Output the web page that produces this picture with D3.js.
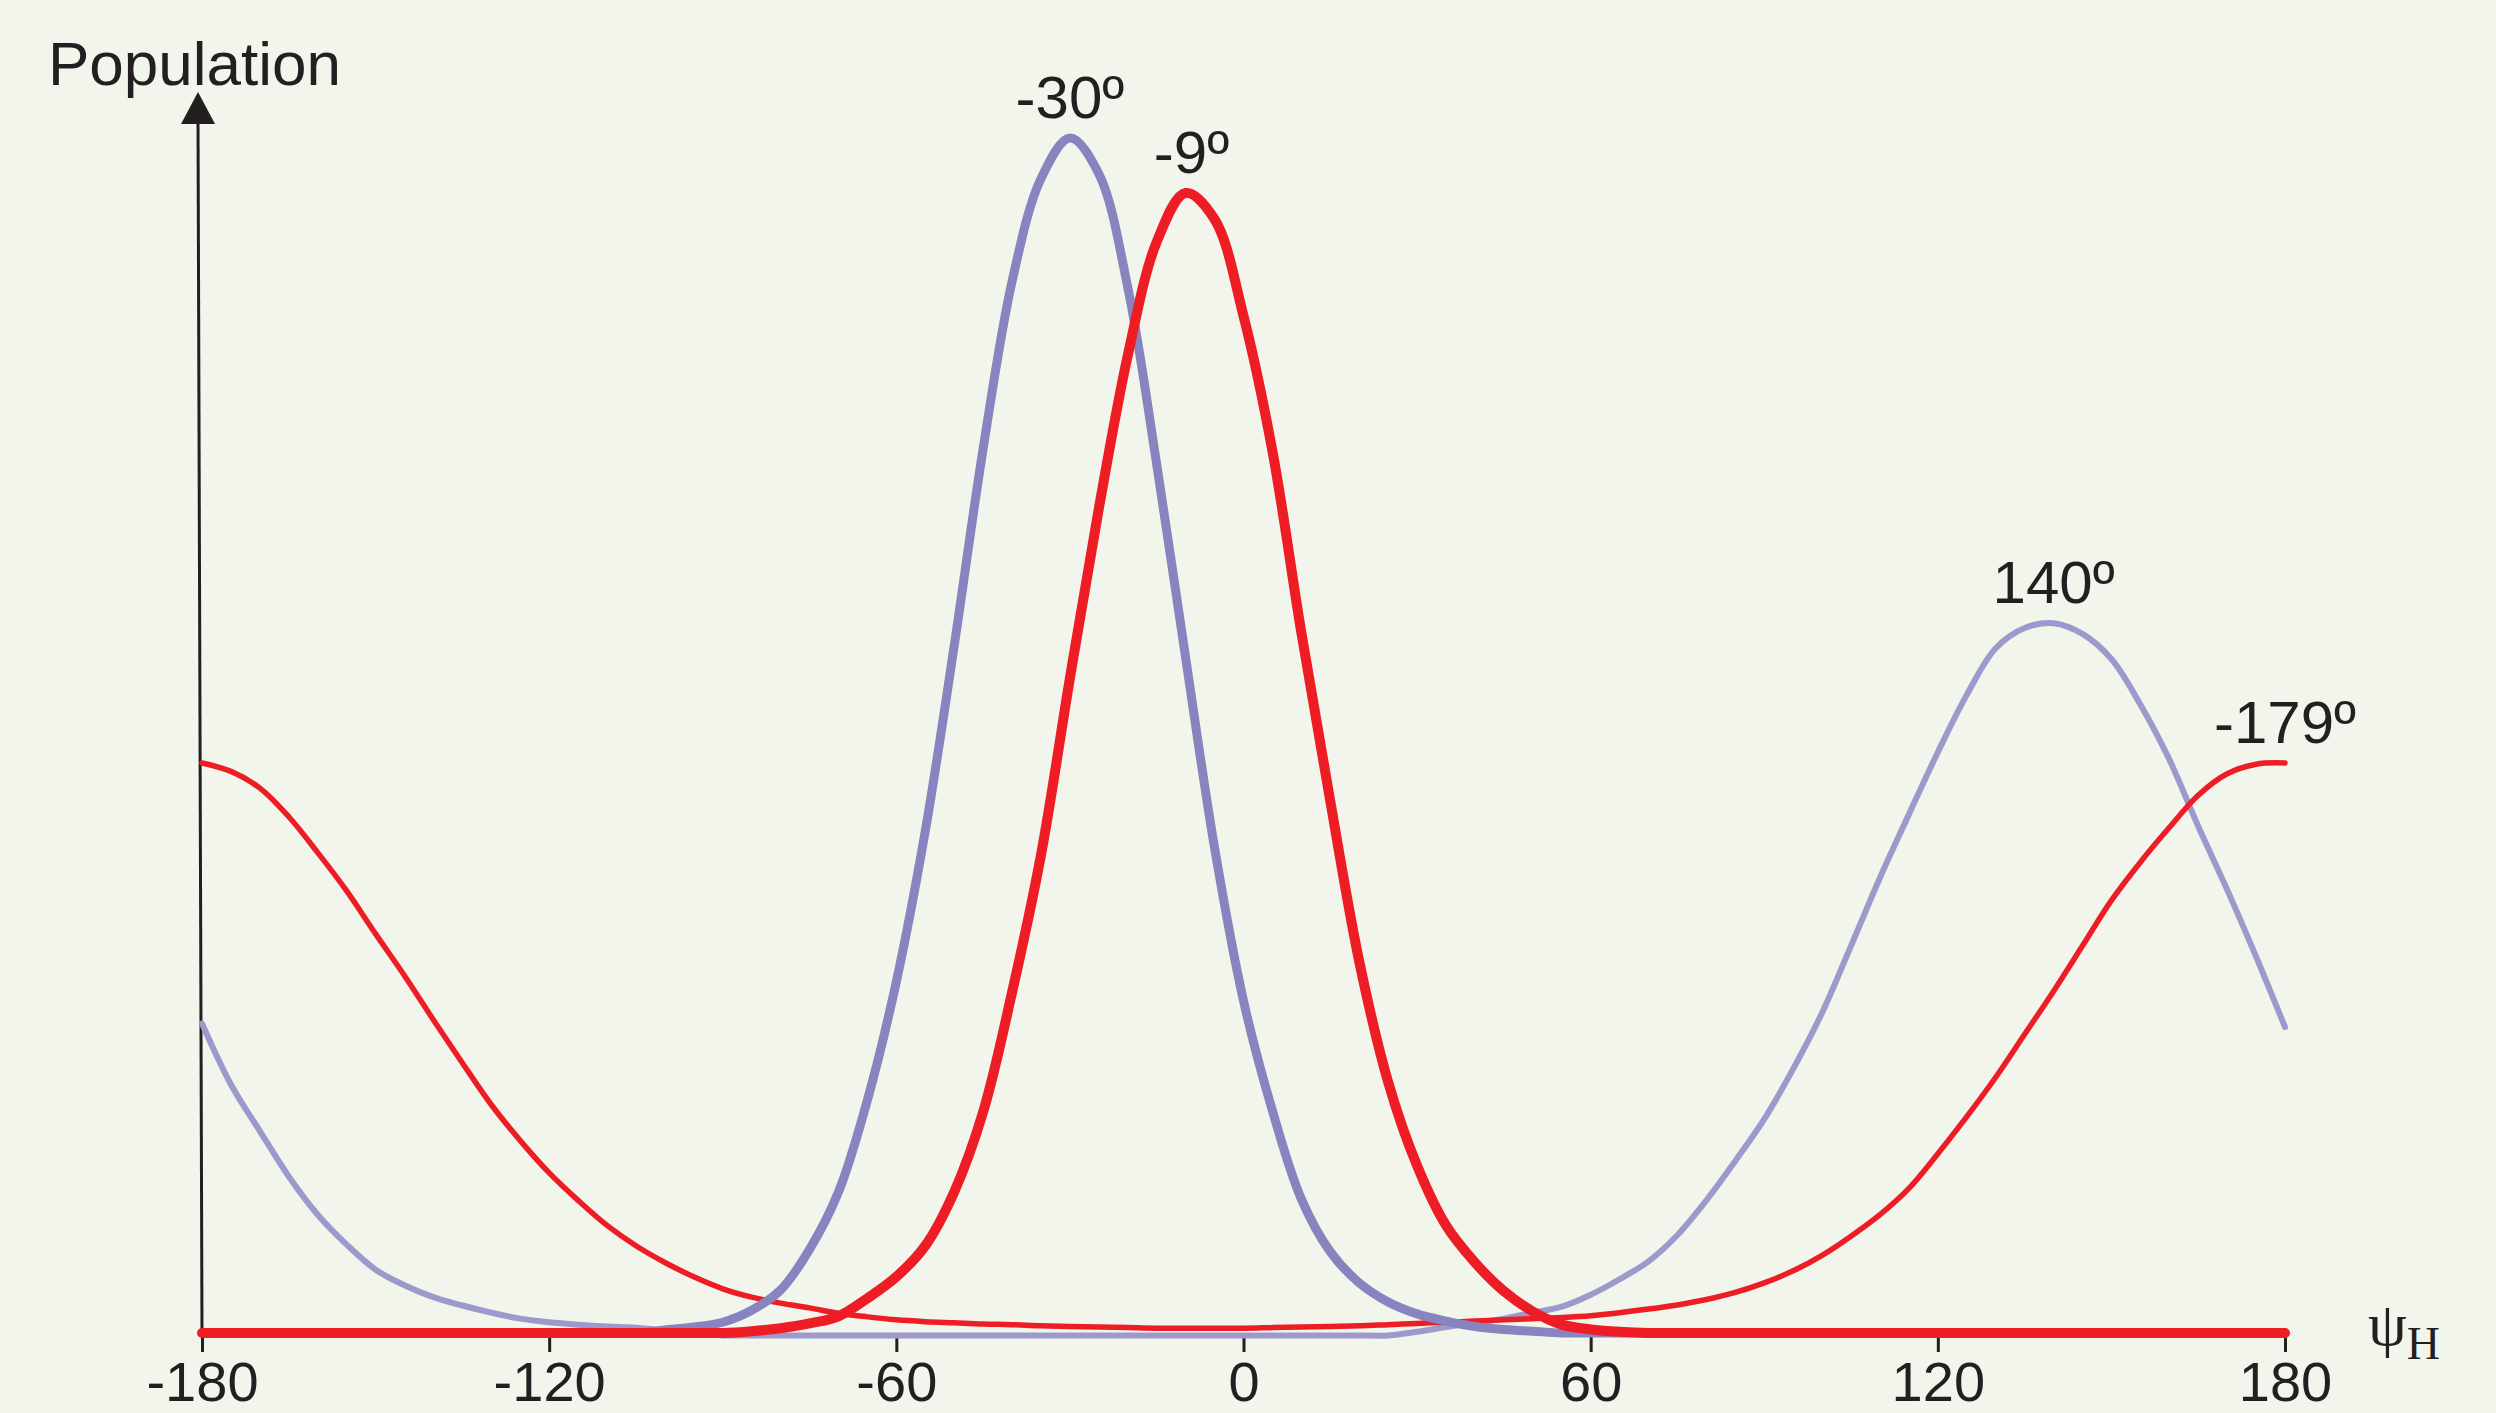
<!DOCTYPE html>
<html>
<head>
<meta charset="utf-8">
<script src="https://cdn.jsdelivr.net/npm/d3@7"></script>
<style>
  body{margin:0;background:#f2f5eb;}
  svg{display:block;}
</style>
</head>
<body>
<script>
// angle grid (deg) shared by all curves
const angles=[-180,-175,-170,-165,-160,-155,-150,-145,-140,-135,-130,-125,-120,-115,-110,-105,-100,-95,-90,-85,-80,-75,-70,-65,-60,-55,-50,-45,-40,-35,-30,-25,-20,-15,-10,-5,0,5,10,15,20,25,30,35,40,45,50,55,60,65,70,75,80,85,90,95,100,105,110,115,120,125,130,135,140,145,150,155,160,165,170,175,180]

// thick blue, peak -30
const popA=[0,0,0,0,0,0,0,0,0,0,0,0,0,0,0,0,0.25,0.5,0.9,1.9,3.6,7.0,11.8,19.5,29.4,42.0,57.5,74.0,88.0,96.6,100,97.0,87.5,72.7,56.5,40.6,27.8,18.6,11.2,6.8,4.2,2.6,1.6,1.0,0.55,0.3,0.15,0,0,0,0,0,0,0,0,0,0,0,0,0,0,0,0,0,0,0,0,0,0,0,0,0,0]
// thick red, peak -9
const popB=[0,0,0,0,0,0,0,0,0,0,0,0,0,0,0,0,0,0,0,0.15,0.4,0.8,1.4,2.9,4.7,7.3,11.8,18.5,28.5,40.0,54.8,69.0,81.8,91.3,95.4,93.2,85.1,73.8,58.6,44.5,31.1,21.0,14.0,9.0,5.9,3.5,1.8,0.7,0.3,0.1,0,0,0,0,0,0,0,0,0,0,0,0,0,0,0,0,0,0,0,0,0,0,0]
// thin blue, peak 140
const popC=[25.9,20.8,16.9,13.1,9.9,7.4,5.3,4.0,3.0,2.3,1.7,1.2,0.9,0.7,0.55,0.45,0.2,0,-0.2,-0.2,-0.2,-0.2,-0.2,-0.2,-0.2,-0.2,-0.2,-0.2,-0.2,-0.2,-0.2,-0.2,-0.2,-0.2,-0.2,-0.2,-0.2,-0.2,-0.2,-0.2,-0.2,-0.2,0.1,0.5,0.85,1.2,1.7,2.2,3.2,4.5,6.0,8.2,11.1,14.4,17.9,22.1,26.8,32.4,38.1,43.4,48.6,53.4,57.3,59.0,59.4,58.5,56.4,52.6,48.0,42.4,37.1,31.5,25.6]
// thin red, peak -179
const popD=[47.7,47.0,45.6,43.2,40.2,37.0,33.4,29.9,26.2,22.6,19.1,16.1,13.4,11.1,9.0,7.3,5.9,4.7,3.7,3.0,2.5,2.1,1.65,1.35,1.1,0.95,0.85,0.75,0.7,0.6,0.55,0.5,0.45,0.4,0.4,0.4,0.4,0.45,0.5,0.55,0.6,0.7,0.8,0.9,1.0,1.1,1.2,1.3,1.45,1.7,2.0,2.35,2.8,3.4,4.2,5.2,6.5,8.1,9.9,12.1,15.0,18.1,21.4,25.0,28.6,32.4,36.2,39.4,42.3,45.0,46.8,47.6,47.7]

const xTicks=[-180,-120,-60,0,60,120,180]
const peakLabels=["-30º","-9º","140º","-179º"]
const peakAngles=[-30,-9,140,180]

const w=2496, h=1413
const svg=d3.select("body").append("svg").attr("width",w).attr("height",h)
svg.append("rect").attr("width",w).attr("height",h).attr("fill","#f2f5eb")

const x=d3.scaleLinear().domain([-180,180]).range([202,2285])
const y=d3.scaleLinear().domain([0,100]).range([1333,138])

// x axis ticks + labels (no domain line)
const xAxis=d3.axisBottom(x).tickValues(xTicks).tickSize(17).tickPadding(9).tickFormat(d=>d)
const gx=svg.append("g").attr("transform","translate(0,1335)").call(xAxis)
gx.select(".domain").remove()
gx.selectAll(".tick line").attr("stroke","#231f20").attr("stroke-width",3)
gx.selectAll(".tick text").attr("fill","#231f20")
  .style("font-family","'Liberation Sans', Arial, sans-serif").style("font-size","56px")

// y axis arrow
svg.append("line").attr("x1",x(-180)).attr("y1",y(0)).attr("x2",x(-180)-4).attr("y2",118)
  .attr("stroke","#231f20").attr("stroke-width",3)
svg.append("path").attr("d",d3.line()([[x(-180)-21,124],[x(-180)-4,92],[x(-180)+13,124]]))
  .attr("fill","#231f20")

svg.append("text").attr("x",48).attr("y",85).text("Population")
  .style("font-family","'Liberation Sans', Arial, sans-serif").style("font-size","62px").attr("fill","#231f20")

const psi=svg.append("text").attr("x",2368).attr("y",1345)
  .style("font-family","'Liberation Serif', 'Times New Roman', serif").attr("fill","#231f20")
psi.append("tspan").text("ψ").style("font-size","62px")
psi.append("tspan").text("H").attr("dy",14).style("font-size","46px")

// curves
const line=d3.line().x((d,i)=>x(angles[i])).y(d=>y(d)).curve(d3.curveCatmullRom.alpha(0.5))
const series=[
  {v:popC,c:"#9d99cc",sw:6},
  {v:popD,c:"#ee1c25",sw:5.5},
  {v:popA,c:"#8884c0",sw:9},
  {v:popB,c:"#ee1c25",sw:10}
]
svg.selectAll("path.curve").data(series).enter().append("path")
  .attr("class","curve")
  .attr("d",d=>line(d.v))
  .attr("fill","none")
  .attr("stroke",d=>d.c)
  .attr("stroke-width",d=>d.sw)
  .attr("stroke-linecap","round")
  .attr("stroke-linejoin","round")

// peak labels
const peakSeries=[popA,popB,popC,popD]
svg.selectAll("text.peak").data(peakLabels).enter().append("text")
  .attr("class","peak")
  .attr("x",(d,i)=>x(peakAngles[i]))
  .attr("y",(d,i)=>y(d3.max(peakSeries[i]))-20)
  .attr("text-anchor","middle")
  .attr("fill","#231f20")
  .style("font-family","'Liberation Sans', Arial, sans-serif").style("font-size","60px")
  .text(d=>d)
</script>
</body>
</html>
